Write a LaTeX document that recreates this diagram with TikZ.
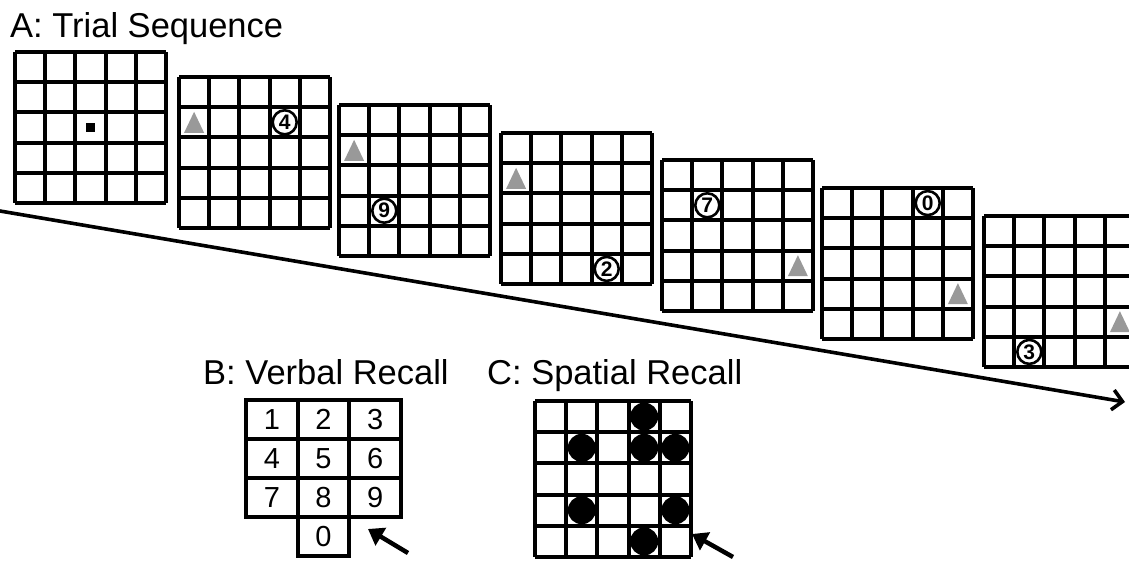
\documentclass[tikz,border=0pt]{standalone}
\usepackage{fontspec}
\setmainfont{Liberation Sans}
\usetikzlibrary{arrows.meta,calc}
\tikzset{
  gridline/.style={line width=3.9pt, line cap=square},
  circdigit/.style={circle, draw, fill=white, line width=2.6pt, minimum size=24pt, inner sep=0pt, font=\bfseries\fontsize{21}{21}\selectfont},
  keybox/.style={draw, line width=3.9pt, minimum width=51.7pt, minimum height=39pt, inner sep=0pt, font=\fontsize{29}{29}\selectfont},
  label/.style={anchor=base west, inner sep=0pt, font=\fontsize{34.5}{34.5}\selectfont},
  tri/.style={fill=black!40},
  dot/.style={circle, fill=black, minimum size=28pt, inner sep=0pt},
  recallarrow/.style={line width=4.5pt, -{Triangle[length=15pt,width=20pt]}},
  timearrow/.style={line width=3.6pt, -{Straight Barb[length=10pt,width=20pt]}}
}
\newcommand\trialgrid[3]{%
  \begin{scope}[shift={(#2,#3)}]
    \coordinate (#1) at (0,0);
    \foreach \i in {0,...,5}{
      \draw[gridline] (\i*30.2,0) -- (\i*30.2,151);
      \draw[gridline] (0,\i*30.2) -- (151,\i*30.2);
    }
  \end{scope}}
\newcommand\graytri[3]{% grid, col, row
  \fill[tri] ($(#1)+(#2*30.2+15.1-10,#3*30.2+15.1+10.5)$) -- ++(20,0) -- ++(-10,-21) -- cycle;}
\begin{document}
\begin{tikzpicture}[x=1pt,y=-1pt]
\useasboundingbox (0,0) rectangle (1129,560);

\node[label] (titleA) at (10,37) {A: Trial Sequence};

% time arrow
\coordinate (tstart) at (-3,210.5);
\coordinate (tend) at (1125,402);
\draw[timearrow] (tstart) -- (tend);

\trialgrid{g1}{15}{52}
\trialgrid{g2}{179}{77}
\trialgrid{g3}{339}{105}
\trialgrid{g4}{501}{133}
\trialgrid{g5}{662}{160}
\trialgrid{g6}{822}{188}
\trialgrid{g7}{984}{216}

% fixation
\fill ($(g1)+(2.5*30.2-4.5,2.5*30.2-4.5)$) rectangle ++(9,9);

% grid 2
\graytri{g2}{0}{1}
\node[circdigit] (d4) at ($(g2)+(3.5*30.2,1.5*30.2)$) {4};
% grid 3
\graytri{g3}{0}{1}
\node[circdigit] (d9) at ($(g3)+(1.5*30.2,3.5*30.2)$) {9};
% grid 4
\graytri{g4}{0}{1}
\node[circdigit] (d2) at ($(g4)+(3.5*30.2,4.5*30.2)$) {2};
% grid 5
\graytri{g5}{4}{3}
\node[circdigit] (d7) at ($(g5)+(1.5*30.2,1.5*30.2)$) {7};
% grid 6
\graytri{g6}{4}{3}
\node[circdigit] (d0) at ($(g6)+(3.5*30.2,0.5*30.2)$) {0};
% grid 7
\graytri{g7}{4}{3}
\node[circdigit] (d3) at ($(g7)+(1.5*30.2,4.5*30.2)$) {3};

% B: verbal recall
\node[label] (titleB) at (203,384) {B: Verbal Recall};
\foreach \n/\c/\r in {1/0/0,2/1/0,3/2/0,4/0/1,5/1/1,6/2/1,7/0/2,8/1/2,9/2/2,0/1/3}{
  \node[keybox] (k\n) at (246+\c*51.7+25.85, 400+\r*39+19.5) {\n};
}
\coordinate (bt) at (408,553);
\coordinate (bh) at (368,529);
\draw[recallarrow] (bt) -- (bh);

% C: spatial recall
\node[label] (titleC) at (487,384) {C: Spatial Recall};
\begin{scope}[shift={(535,401)}]
  \coordinate (sg) at (0,0);
  \foreach \i in {0,...,5}{
    \draw[gridline] (\i*31.2,0) -- (\i*31.2,156);
    \draw[gridline] (0,\i*31.2) -- (156,\i*31.2);
  }
  \foreach \c/\r in {3/0,1/1,3/1,4/1,1/3,4/3,3/4}{
    \node[dot] (s\c\r) at (\c*31.2+15.6,\r*31.2+15.6) {};
  }
\end{scope}
\coordinate (ct) at (733,557);
\coordinate (ch) at (692,534);
\draw[recallarrow] (ct) -- (ch);
\end{tikzpicture}
\end{document}
